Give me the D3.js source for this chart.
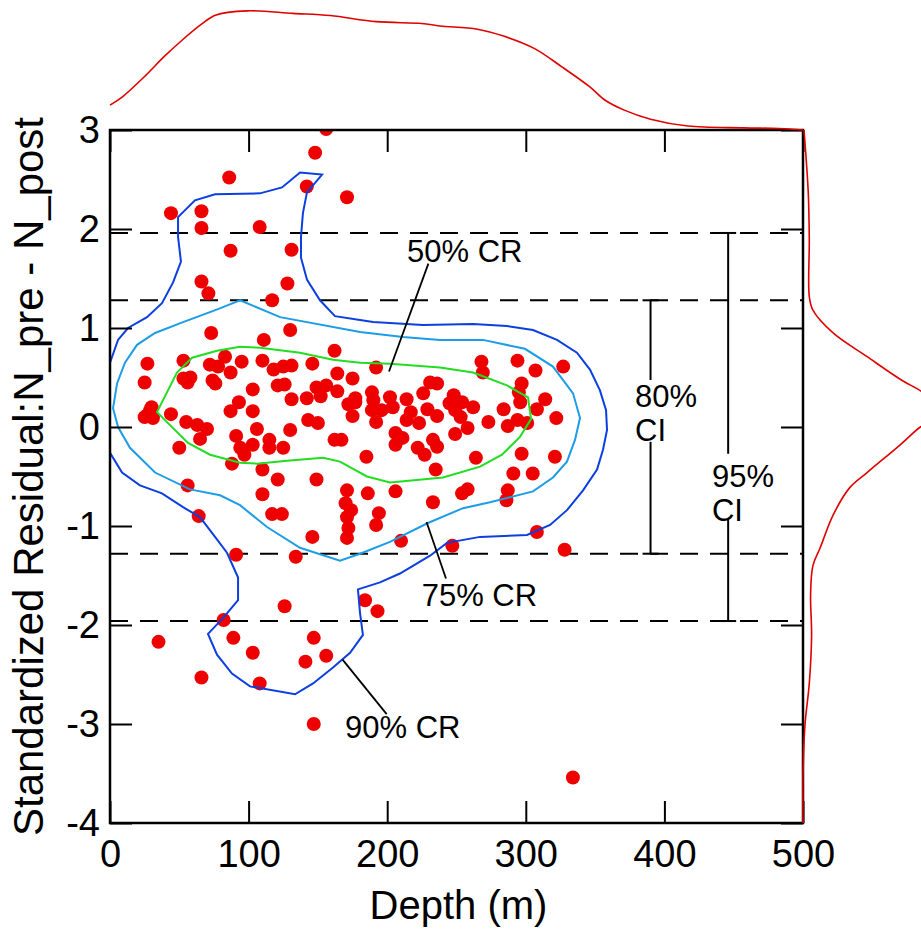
<!DOCTYPE html>
<html>
<head>
<meta charset="utf-8">
<script src="https://cdn.jsdelivr.net/npm/d3@7"></script>
<style>
  body { margin: 0; background: #fff; }
  svg { display: block; font-family: "Liberation Sans", Arial, sans-serif; }
</style>
</head>
<body>
<script>
// tick values
var depthTicks = [0, 100, 200, 300, 400, 500];
var residTicks = [-4, -3, -2, -1, 0, 1, 2, 3];

// scatter points (depth m, standardized residual)
var pointDepth = [156,148,86,142,171,44,66,66,108,87,131,66,71,128,117,73,130,111,162,27,
  53,72,83,78,95,110,118,125,131,146,164,175,25,53,58,56,74,76,87,103,
  121,126,131,142,149,156,152,164,172,177,175,93,87,103,29,27,31,25,30,44,
  55,63,70,65,106,130,143,150,91,50,94,97,103,115,115,125,162,167,88,110,
  121,149,56,110,171,170,174,171,172,171,64,117,124,146,91,134,
  268,269,294,307,327,192,231,236,226,297,295,314,308,322,296,284,301,294,287,189,177,
  190,202,214,189,196,192,204,217,214,223,229,236,248,254,245,249,253,258,249,262,273,
  206,211,206,222,227,233,236,185,235,264,297,321,291,305,
  186,206,254,258,287,286,233,194,192,210,247,308,328,
  184,193,126,82,35,89,103,147,156,141,66,108,147,334];
var pointResidual = [3.01,2.77,2.52,2.43,2.32,2.16,2.18,2.01,2.02,1.78,1.79,1.47,1.35,1.45,1.28,0.95,0.98,0.88,0.77,0.64,
  0.67,0.63,0.71,0.61,0.66,0.67,0.58,0.61,0.62,0.64,0.54,0.49,0.45,0.49,0.50,0.45,0.47,0.44,0.55,0.38,
  0.42,0.43,0.28,0.29,0.40,0.42,0.31,0.36,0.23,0.29,0.11,0.25,0.16,0.16,0.17,0.12,0.09,0.10,0.20,0.13,
  0.05,0.02,-0.02,-0.12,-0.02,-0.03,0.07,0.04,-0.09,-0.21,-0.21,-0.28,-0.18,-0.13,-0.21,-0.21,-0.13,-0.13,-0.37,-0.43,
  -0.53,-0.53,-0.59,-0.68,-0.64,-0.77,-0.84,-0.91,-1.02,-1.12,-0.90,-0.88,-0.88,-1.11,-1.29,-1.31,
  0.66,0.55,0.67,0.57,0.61,0.60,0.45,0.44,0.34,0.44,0.35,0.28,0.18,0.09,0.25,0.18,0.04,0.07,0.01,0.35,0.25,
  0.27,0.30,0.28,0.17,0.17,0.05,0.20,0.15,0.07,0.04,0.18,0.11,0.32,0.25,0.24,0.17,0.10,-0.01,-0.07,0.20,0.05,
  -0.06,-0.11,-0.18,-0.21,-0.28,-0.13,-0.20,-0.30,-0.43,-0.31,-0.27,-0.30,-0.47,-0.47,
  -0.67,-0.65,-0.67,-0.63,-0.64,-0.74,-0.76,-0.87,-0.99,-1.15,-1.20,-1.06,-1.24,
  -1.75,-1.86,-1.81,-1.95,-2.17,-2.13,-2.28,-2.13,-2.31,-2.37,-2.53,-2.59,-3.00,-3.54];

// confidence region contours [depth, residual]
var contour90 = [[5.8,0.88],[13,1.0],[26.7,1.11],[37.5,1.25],[45.5,1.46],[51.2,1.67],[49.1,1.92],[49.1,2.12],
  [61.3,2.29],[75.8,2.35],[108.2,2.36],[124.1,2.42],[137.1,2.57],[153,2.55],[142.1,2.37],[139.2,2.16],
  [137.8,1.92],[137.8,1.71],[142.1,1.49],[151.5,1.28],[162.3,1.12],[180.4,1.08],[189.8,1.06],[225.8,1.03],
  [261.9,1.04],[286.4,1.02],[305.2,0.98],[322.5,0.88],[336.9,0.75],[346.3,0.58],[353.5,0.37],[357.9,0.17],
  [358.6,-0.03],[355.7,-0.23],[351.4,-0.43],[341.3,-0.64],[329.7,-0.84],[317.5,-0.99],[300.9,-1.09],[267,-1.11],
  [243.1,-1.17],[230.9,-1.30],[209.2,-1.48],[194.8,-1.57],[178.9,-1.64],[180.4,-1.88],[182.5,-2.10],[173.2,-2.28],
  [160.9,-2.43],[146.5,-2.59],[133.5,-2.70],[101,-2.62],[88,-2.49],[77.2,-2.30],[70.7,-2.09],[81.5,-1.93],
  [92.4,-1.75],[92.4,-1.52],[84.4,-1.27],[75.8,-1.11],[64.9,-0.91],[52.7,-0.81],[37.5,-0.67],[21.6,-0.59],
  [8.7,-0.46],[0,-0.26],[-8,0.2],[0,0.65]];
var contour75 = [[93.8,1.28],[122.7,1.11],[180.4,0.96],[211.4,0.91],[238.1,0.88],[269.1,0.88],[299.4,0.79],
  [319.6,0.61],[334.1,0.34],[339.1,0.09],[335.5,-0.13],[329.7,-0.35],[319.6,-0.51],[305.2,-0.65],[274.2,-0.76],
  [254.7,-0.82],[229.4,-0.97],[202,-1.16],[180.4,-1.28],[165.9,-1.35],[137.1,-1.22],[113.3,-1.01],[93.8,-0.79],
  [79.4,-0.69],[57.7,-0.63],[32.5,-0.46],[14.4,-0.21],[5.8,0],[2.2,0.19],[5.1,0.44],[10.8,0.65],[19.5,0.83],
  [32.5,0.95],[52.7,1.06],[77.9,1.19]];
var contour50 = [[33.9,0.15],[48.3,0.55],[59.2,0.70],[77.2,0.77],[93.8,0.81],[108.2,0.80],[137.1,0.75],
  [160.9,0.68],[180.4,0.65],[202,0.64],[238.1,0.60],[261.9,0.55],[286.4,0.42],[301.6,0.30],[303.8,0.08],
  [295.8,-0.10],[282.8,-0.28],[267,-0.40],[240.3,-0.51],[202,-0.56],[185.4,-0.50],[165.9,-0.35],[153.7,-0.31],
  [127.7,-0.34],[106.1,-0.37],[93.8,-0.36],[72.2,-0.28],[56.3,-0.16]];

// marginal densities
var depthDensX = [0,9,26,39,53,66,76,99,132,159,192,225,238,265,284,306,326,346,357,371,390,417,457,483,500];
var depthDensY = [0.69,0.92,1.52,2.03,2.52,2.93,3.18,3.30,3.23,3.17,3.00,2.95,2.88,2.79,2.60,2.26,1.75,1.20,0.83,0.55,0.30,0.11,0.06,0.04,0.0];
var residDensX = [3.0,2.36,1.89,1.32,1.18,0.95,0.71,0.47,0.36,0.24,0.12,0.0,-0.18,-0.46,-0.61,-0.89,-1.22,-1.40,-1.69,-2.11,-2.59,-3.01,-3.53,-4.0];
var residDensY = [0.003,0.016,0.019,0.019,0.030,0.091,0.194,0.30,0.358,0.40,0.415,0.355,0.294,0.194,0.142,0.091,0.052,0.030,0.023,0.026,0.019,0.006,0.0,0.0];

// credible intervals
var ci80 = [-1.28, 1.28], ci95 = [-1.96, 1.96];
var ciDepth80 = 390, ciDepth95 = 446;

var svg = d3.select("body").append("svg").attr("width", 921).attr("height", 929),
    margin = {top: 130, right: 118, bottom: 106, left: 110},
    width = 921 - margin.left - margin.right,
    height = 929 - margin.top - margin.bottom;

var x = d3.scaleLinear().domain([0, 500]).range([margin.left, margin.left + width]),
    y = d3.scaleLinear().domain([-4, 3]).range([margin.top + height, margin.top]);
var topDens = d3.scaleLinear().domain([0, 3.6]).range([margin.top, 0]),
    rightDens = d3.scaleLinear().domain([0, 0.357]).range([margin.left + width, 921]);

svg.append("clipPath").attr("id", "plotclip")
  .append("rect").attr("x", x(0)).attr("y", y(3)).attr("width", width).attr("height", height);

var plot = svg.append("g").attr("clip-path", "url(#plotclip)");

// dashed interval lines
plot.selectAll(".dash")
  .data([ci95[1], ci80[1], ci80[0], ci95[0]])
  .enter().append("line")
    .attr("x1", x(0)).attr("x2", x(500))
    .attr("y1", function(d) { return y(d); })
    .attr("y2", function(d) { return y(d); })
    .attr("stroke", "#000").attr("stroke-width", 2)
    .attr("stroke-dasharray", "18,12");

// points
plot.selectAll(".dot")
  .data(pointDepth)
  .enter().append("circle")
    .attr("cx", function(d) { return x(d); })
    .attr("cy", function(d, i) { return y(pointResidual[i]); })
    .attr("r", 7)
    .attr("fill", "#ee0000");

// contours
var contourLine = d3.line()
  .x(function(d) { return x(d[0]); })
  .y(function(d) { return y(d[1]); })
  .curve(d3.curveLinearClosed);

[[contour90, "#0b3fe0"], [contour75, "#1c9de6"], [contour50, "#22dd22"]].forEach(function(c) {
  plot.append("path")
    .attr("d", contourLine(c[0]))
    .attr("fill", "none")
    .attr("stroke", c[1])
    .attr("stroke-width", 2);
});

// axes, ticks inward
function noDomain(g) { g.select(".domain").remove(); }

svg.append("g")
  .attr("transform", "translate(0," + y(-4) + ")")
  .call(d3.axisBottom(x).tickValues(depthTicks).tickSize(-22).tickSizeOuter(0).tickPadding(17))
  .call(noDomain)
  .call(function(g) {
    g.selectAll("line").attr("stroke-width", 2);
    g.selectAll("text").attr("font-size", 38).attr("fill", "#000").attr("font-family", "Liberation Sans, Arial, sans-serif");
  });

svg.append("g")
  .attr("transform", "translate(0," + y(3) + ")")
  .call(d3.axisTop(x).tickValues(depthTicks).tickSize(-22).tickSizeOuter(0).tickFormat(""))
  .call(noDomain)
  .call(function(g) { g.selectAll("line").attr("stroke-width", 2); });

svg.append("g")
  .attr("transform", "translate(" + x(0) + ",0)")
  .call(d3.axisLeft(y).tickValues(residTicks).tickSize(-22).tickSizeOuter(0).tickPadding(10)
    .tickFormat(function(d) { return String(d); }))
  .call(noDomain)
  .call(function(g) {
    g.selectAll("line").attr("stroke-width", 2);
    g.selectAll("text").attr("font-size", 38).attr("fill", "#000").attr("font-family", "Liberation Sans, Arial, sans-serif");
  });

svg.append("g")
  .attr("transform", "translate(" + x(500) + ",0)")
  .call(d3.axisRight(y).tickValues(residTicks).tickSize(-22).tickSizeOuter(0).tickFormat(""))
  .call(noDomain)
  .call(function(g) { g.selectAll("line").attr("stroke-width", 2); });

svg.append("rect")
  .attr("x", x(0)).attr("y", y(3))
  .attr("width", width).attr("height", height)
  .attr("fill", "none").attr("stroke", "#000").attr("stroke-width", 2.5);

// axis titles
svg.append("text")
  .attr("x", (x(0) + x(500)) / 2 + 2).attr("y", 919)
  .attr("text-anchor", "middle").attr("font-size", 40)
  .text("Depth (m)");

svg.append("text")
  .attr("transform", "translate(43," + ((y(3) + y(-4)) / 2) + ") rotate(-90)")
  .attr("text-anchor", "middle").attr("font-size", 42)
  .text("Standardized Residual:N_pre - N_post");

// interval bars
function ciBar(depth, lo, hi, gapLo, gapHi) {
  var g = svg.append("g").attr("stroke", "#000").attr("stroke-width", 2);
  g.append("line").attr("x1", x(depth)).attr("x2", x(depth)).attr("y1", y(hi)).attr("y2", y(gapHi));
  g.append("line").attr("x1", x(depth)).attr("x2", x(depth)).attr("y1", y(gapLo)).attr("y2", y(lo));
  [lo, hi].forEach(function(v) {
    g.append("line").attr("x1", x(depth) - 8).attr("x2", x(depth) + 8).attr("y1", y(v)).attr("y2", y(v));
  });
}
ciBar(ciDepth80, ci80[0], ci80[1], -0.15, 0.475);
ciBar(ciDepth95, ci95[0], ci95[1], -0.94, -0.27);

function label(depth, res, lines) {
  var t = svg.append("text").attr("font-size", 31).attr("fill", "#000");
  lines.forEach(function(s, i) {
    t.append("tspan").attr("x", x(depth)).attr("y", y(res) + i * 34).text(s);
  });
}
label(378.8, 0.20, ["80%", "CI"]);
label(434.3, -0.61, ["95%", "CI"]);
label(214.3, 1.67, ["50% CR"]);
label(224.9, -1.81, ["75% CR"]);
label(169.6, -3.14, ["90% CR"]);

// leader lines
var leaders = [[[229.7, 1.65], [201.3, 0.56]], [[228.4, -0.96], [242.4, -1.53]], [[167.8, -2.35], [199.6, -2.90]]];
leaders.forEach(function(l) {
  svg.append("line")
    .attr("x1", x(l[0][0])).attr("y1", y(l[0][1]))
    .attr("x2", x(l[1][0])).attr("y2", y(l[1][1]))
    .attr("stroke", "#000").attr("stroke-width", 1.8);
});

// marginal density curves
var topLine = d3.line()
  .x(function(d, i) { return x(d); })
  .y(function(d, i) { return topDens(depthDensY[i]); })
  .curve(d3.curveCatmullRom);
svg.append("path")
  .attr("d", topLine(depthDensX))
  .attr("fill", "none").attr("stroke", "#e00000").attr("stroke-width", 1.6);

var rightLine = d3.line()
  .x(function(d, i) { return rightDens(residDensY[i]); })
  .y(function(d, i) { return y(d); })
  .curve(d3.curveCatmullRom);
svg.append("path")
  .attr("d", rightLine(residDensX))
  .attr("fill", "none").attr("stroke", "#e00000").attr("stroke-width", 1.6);
</script>
</body>
</html>
